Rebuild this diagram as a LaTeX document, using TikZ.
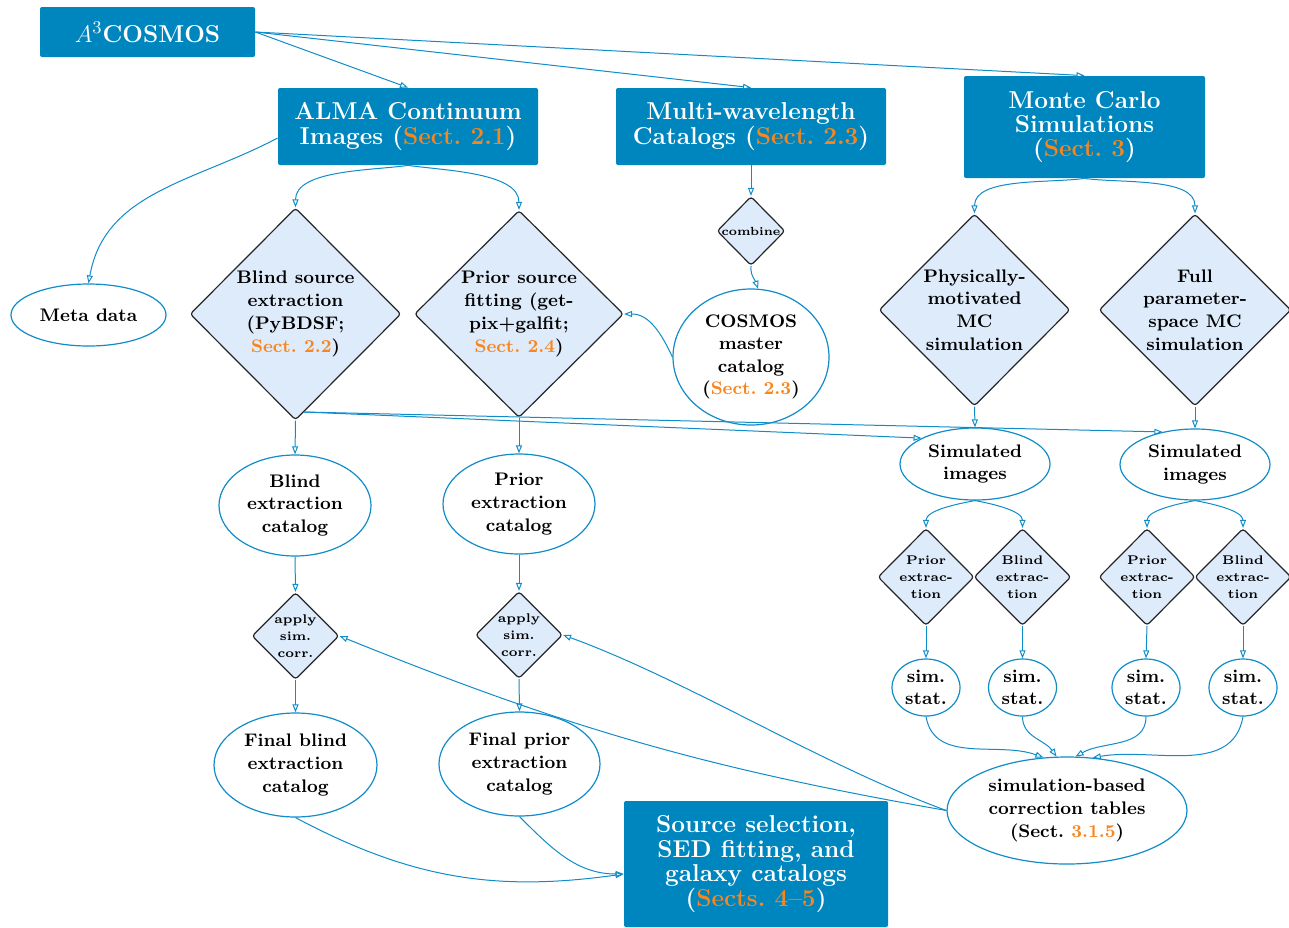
\documentclass[tikz,border=0pt]{standalone}
\usetikzlibrary{shapes.geometric,arrows.meta}
\definecolor{boxblue}{RGB}{0,134,191}
\definecolor{orng}{RGB}{247,134,30}
\definecolor{diafill}{RGB}{222,235,251}
\definecolor{lineblue}{RGB}{16,140,200}
\newcommand{\sref}[1]{\textcolor{orng}{#1}}
\tikzset{
  bluebox/.style={rectangle, rounded corners=1pt, fill=boxblue, text=white, align=center, inner sep=0pt,
    font=\fontsize{12.2}{12.2}\selectfont\bfseries},
  dia/.style={diamond, draw=black!85, line width=0.6pt, fill=diafill, rounded corners=1.5pt, align=center,
    inner sep=0pt, font=\fontsize{9.1}{11.4}\selectfont\bfseries},
  smalldia/.style={dia, font=\fontsize{6.3}{8.5}\selectfont\bfseries},
  ell/.style={ellipse, draw=lineblue, line width=0.6pt, align=center, inner sep=0pt,
    font=\fontsize{9.1}{11.3}\selectfont\bfseries},
  arr/.style={draw=lineblue, line width=0.5pt, -{Triangle[open,length=4pt,width=3pt]}}
}
\begin{document}
\begin{tikzpicture}[x=0.5pt,y=0.5pt]
\useasboundingbox (0,0) rectangle (1289,-927);
\begin{scope}
\clip (0,0) rectangle (1289,-927);
% blue boxes
\node[bluebox, minimum width=107.5pt, minimum height=25pt] (a3) at (147.5,-32) {$A^3$COSMOS};
\node[bluebox, minimum width=130pt, minimum height=38.5pt] (alma) at (408,-126.5) {ALMA Continuum\\Images (\sref{Sect.\ 2.1})};
\node[bluebox, minimum width=135pt, minimum height=38.5pt] (multi) at (751,-126.5) {Multi-wavelength\\Catalogs (\sref{Sect.\ 2.3})};
\node[bluebox, minimum width=120.5pt, minimum height=51pt] (monte) at (1084.5,-127) {Monte Carlo\\Simulations\\(\sref{Sect.\ 3})};
\node[bluebox, minimum width=132pt, minimum height=63pt] (src) at (756,-864) {Source selection,\\SED fitting, and\\galaxy catalogs\\(\sref{Sects.\ 4--5})};
% diamonds
\node[dia, minimum width=105.5pt, minimum height=106pt] (blind) at (295.5,-314) {Blind source\\extraction\\(PyBDSF;\\\sref{Sect.\ 2.2})};
\node[dia, minimum width=104.5pt, minimum height=103.5pt] (prior) at (519,-314) {Prior source\\fitting (get-\\pix+galfit;\\\sref{Sect.\ 2.4})};
\node[smalldia, minimum width=34pt, minimum height=34.5pt, font=\fontsize{5.9}{8}\selectfont\bfseries] (comb) at (751,-231) {combine};
\node[dia, minimum width=95.5pt, minimum height=96pt] (phys) at (974.5,-310) {Physically-\\motivated\\MC\\simulation};
\node[dia, minimum width=96pt, minimum height=96pt] (full) at (1195,-310) {Full\\parameter-\\space MC\\simulation};
\node[smalldia, minimum width=48pt, minimum height=48.5pt] (pe1) at (926,-577) {Prior\\extrac-\\tion};
\node[smalldia, minimum width=48.5pt, minimum height=48.5pt] (be1) at (1022.5,-577) {Blind\\extrac-\\tion};
\node[smalldia, minimum width=48pt, minimum height=48.5pt] (pe2) at (1147,-577) {Prior\\extrac-\\tion};
\node[smalldia, minimum width=48pt, minimum height=48.5pt] (be2) at (1243,-577) {Blind\\extrac-\\tion};
\node[smalldia, minimum width=43.5pt, minimum height=43.5pt] (ap1) at (295.5,-636) {apply\\sim.\\corr.};
\node[smalldia, minimum width=43.5pt, minimum height=43.5pt] (ap2) at (519,-635) {apply\\sim.\\corr.};
% ellipses
\node[ell, minimum width=77.5pt, minimum height=31pt] (meta) at (88.5,-315) {Meta data};
\node[ell, minimum width=78pt, minimum height=68pt] (cosmos) at (751,-357) {COSMOS\\master\\catalog\\(\sref{Sect.\ 2.3})};
\node[ell, minimum width=76pt, minimum height=50.5pt] (bcat) at (295,-505.5) {Blind\\extraction\\catalog};
\node[ell, minimum width=76pt, minimum height=50pt] (pcat) at (519,-504) {Prior\\extraction\\catalog};
\node[ell, minimum width=81.5pt, minimum height=52pt] (fb) at (295.5,-765) {Final blind\\extraction\\catalog};
\node[ell, minimum width=80.5pt, minimum height=52pt] (fp) at (519.5,-764) {Final prior\\extraction\\catalog};
\node[ell, minimum width=75pt, minimum height=36pt] (siml) at (975,-464) {Simulated\\images};
\node[ell, minimum width=75pt, minimum height=35.5pt] (simr) at (1195,-464.5) {Simulated\\images};
\node[ell, minimum width=34pt, minimum height=28.5pt] (st1) at (926,-687.5) {sim.\\stat.};
\node[ell, minimum width=34pt, minimum height=28.5pt] (st2) at (1022.5,-687.5) {sim.\\stat.};
\node[ell, minimum width=34pt, minimum height=28.5pt] (st3) at (1146,-687.5) {sim.\\stat.};
\node[ell, minimum width=34pt, minimum height=28.5pt] (st4) at (1243,-687.5) {sim.\\stat.};
\node[ell, minimum width=120pt, minimum height=53.5pt] (corr) at (1067,-810.5) {simulation-based\\correction tables\\(Sect.\ \sref{3.1.5})};
% connectors
\draw[arr] (a3.east) -- (alma.north);
\draw[arr] (a3.east) -- (multi.north);
\draw[arr] (a3.east) -- (monte.north);
\draw[arr] ([yshift=-5.75pt]alma.west) to[out=-152,in=80] (meta.north);
\draw[arr] (alma.south) to[out=188,in=90,looseness=0.8] (blind.north);
\draw[arr] (alma.south) to[out=-8,in=90,looseness=0.8] (prior.north);
\draw[arr] (multi.south) -- (comb.north);
\draw[arr] (comb.south) to[out=-95,in=110] (cosmos.84);
\draw[arr] (cosmos.west) to[out=115,in=0] (prior.east);
\draw[arr] (monte.south) to[out=188,in=90,looseness=0.8] (phys.north);
\draw[arr] (monte.south) to[out=-8,in=90,looseness=0.8] (full.north);
\draw[arr] (phys.south) -- (siml.north);
\draw[arr] (full.south) -- (simr.north);
\draw[arr] (blind.-85) -- (siml.north west);
\draw[arr] (blind.-85) -- (simr.135);
\draw[arr] (blind.south) -- (bcat.north);
\draw[arr] (prior.south) -- (pcat.north);
\draw[arr] (bcat.south) -- (ap1.north);
\draw[arr] (pcat.south) -- (ap2.north);
\draw[arr] (ap1.south) -- (fb.north);
\draw[arr] (ap2.south) -- (fp.north);
\draw[arr] (siml.south) to[out=-10,in=90,looseness=0.8] (be1.north);
\draw[arr] (siml.south) to[out=190,in=90,looseness=0.8] (pe1.north);
\draw[arr] (simr.south) to[out=-10,in=90,looseness=0.8] (be2.north);
\draw[arr] (simr.south) to[out=190,in=90,looseness=0.8] (pe2.north);
\draw[arr] (pe1.south) -- (st1.north);
\draw[arr] (be1.south) -- (st2.north);
\draw[arr] (pe2.south) -- (st3.north);
\draw[arr] (be2.south) -- (st4.north);
\draw[arr] (st1.south) to[out=-80,in=160] (corr.114);
\draw[arr] (st2.south) to[out=-90,in=125] (corr.101);
\draw[arr] (st3.south) to[out=-90,in=30] (corr.81);
\draw[arr] (st4.south) to[out=-100,in=10] (corr.64);
\draw[arr] (corr.west) to[out=170,in=-22] (ap1.east);
\draw[arr] (corr.west) to[out=160,in=-20,looseness=0.8] (ap2.east);
\draw[arr] (fb.south) to[out=-28,in=188] ([yshift=-5pt]src.west);
\draw[arr] (fp.south) to[out=-45,in=180] ([yshift=-5pt]src.west);
\end{scope}
\end{tikzpicture}
\end{document}
